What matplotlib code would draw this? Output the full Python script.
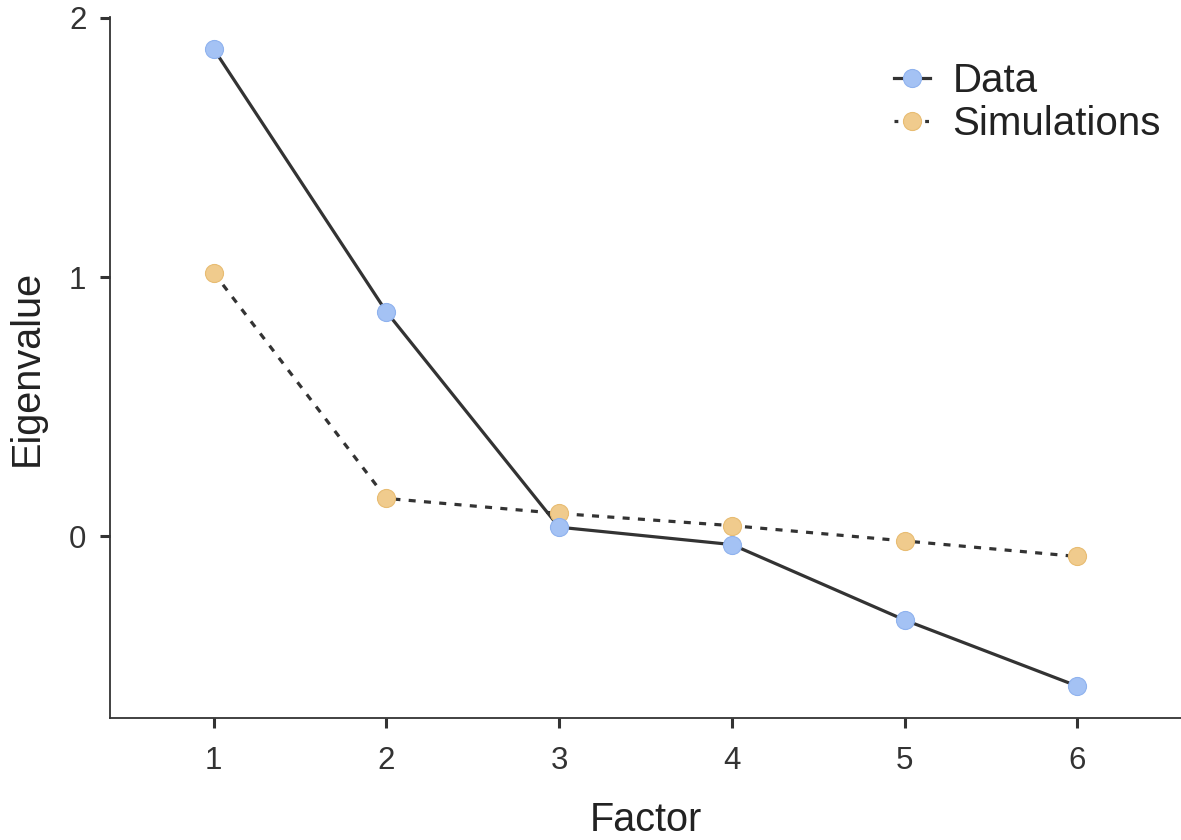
import matplotlib
matplotlib.use("Agg")
import matplotlib.pyplot as plt

# valores
factors = [1, 2, 3, 4, 5, 6]
data_eig = [1.88, 0.866, 0.035, -0.032, -0.323, -0.578]
sim_eig = [1.017, 0.146, 0.088, 0.041, -0.018, -0.078]
yticks = [0, 1, 2]

plt.rcParams['font.family'] = ['Liberation Sans', 'DejaVu Sans']

fig = plt.figure(figsize=(11.81, 8.4), dpi=100)
ax = fig.add_axes([110 / 1181, 122 / 840, 1 - 110 / 1181, (718 - 17) / 840])

line_col = '#333333'
ax.plot(factors, sim_eig, color=line_col, lw=2.3, ls=(0, (2.2, 2.6)), zorder=2)
ax.plot(factors, data_eig, color=line_col, lw=2.3, zorder=2)
ax.plot(factors, sim_eig, 'o', ms=13, mfc='#F0CB8D', mec='#E8BC72', mew=0.8, zorder=3)
ax.plot(factors, data_eig, 'o', ms=13, mfc='#A4C2F4', mec='#8FB2EE', mew=0.8, zorder=3)

# legenda feita com handles combinados
h1, = ax.plot([], [], color=line_col, lw=2.3, marker='o', ms=13,
              mfc='#A4C2F4', mec='#8FB2EE', mew=0.8)
h2, = ax.plot([], [], color=line_col, lw=2.3, ls=(0, (1.2, 2.0)), marker='o', ms=13,
              mfc='#F0CB8D', mec='#E8BC72', mew=0.8)
leg = ax.legend([h1, h2], ['Data', 'Simulations'], loc='upper left',
                bbox_to_anchor=(894 / 1181, 1 - 62 / 840), bbox_transform=fig.transFigure,
                frameon=False, fontsize=29,
                handlelength=0.9, handletextpad=0.55, labelspacing=0.12,
                borderaxespad=0.0, borderpad=0.0)
for t in leg.get_texts():
    t.set_color('#222222')

ax.set_xlim(0.4, 6.6)
ax.set_ylim(-0.701, 2.003)
ax.set_xticks(factors)
ax.set_yticks(yticks)

for s in ['top', 'right']:
    ax.spines[s].set_visible(False)
for s in ['left', 'bottom']:
    ax.spines[s].set_color(line_col)
    ax.spines[s].set_linewidth(1.3)

ax.tick_params(axis='both', length=7, width=2.2, color=line_col,
               labelsize=22.5, labelcolor='#333333')
ax.tick_params(axis='x', pad=13)
ax.tick_params(axis='y', pad=10)

ax.set_xlabel('Factor', fontsize=28.5, color='#222222', labelpad=18)
ax.set_ylabel('Eigenvalue', fontsize=28.5, color='#222222', labelpad=17)

plt.savefig('out.png', dpi=100)
